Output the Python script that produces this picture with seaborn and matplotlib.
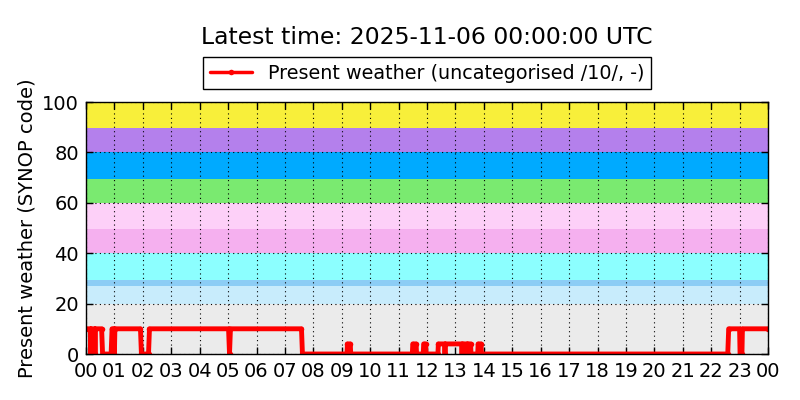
import pandas as pd
import numpy as np
import seaborn as sns
import matplotlib
matplotlib.use("Agg")
import matplotlib.pyplot as plt
import matplotlib.dates as mdates

# observation times (HH:MM on 2025-11-05) and present weather codes
times = [
    "00:00", "00:09", "00:10", "00:11", "00:18", "00:19", "00:20", "00:33",
    "00:35", "00:53", "00:55", "00:59", "01:00", "01:01", "01:55", "01:57",
    "02:12", "02:14", "05:01", "05:03", "05:05", "07:35", "07:37", "09:11",
    "09:12", "09:18", "09:19", "11:29", "11:30", "11:37", "11:38", "11:52",
    "11:53", "11:57", "11:58", "12:23", "12:24", "12:37", "12:38", "12:39",
    "13:13", "13:14", "13:15", "13:24", "13:25", "13:26", "13:32", "13:33",
    "13:47", "13:48", "13:54", "13:55", "22:35", "22:37", "23:00", "23:01",
    "23:05", "23:06", "24:00",
]
ww = [
    10, 10, 0, 10, 10, 0, 10, 10,
    0, 0, 10, 10, 0, 10, 10, 0,
    0, 10, 10, 0, 10, 10, 0, 0,
    4, 4, 0, 0, 4, 4, 0, 0,
    4, 4, 0, 0, 4, 4, 0, 4,
    4, 0, 4, 4, 0, 4, 4, 0,
    0, 4, 4, 0, 0, 10, 10, 0,
    0, 10, 10,
]

# background bands for SYNOP code groups
band_edges = [0, 20, 27, 29.5, 40, 49.5, 60, 69.5, 80, 89.5, 100]
band_colors = ["#ebebeb", "#c8ecfc", "#8ccdf5", "#8cffff", "#f5b0ef",
               "#fdd0f8", "#7aea70", "#00aaff", "#b480ec", "#f8ef3a"]

day = pd.Timestamp("2025-11-05")


def to_time(s):
    h, m = s.split(":")
    return day + pd.Timedelta(hours=int(h), minutes=int(m))


df = pd.DataFrame({"time": [to_time(t) for t in times], "ww": ww})

sns.set_style("white", rc={"text.color": "black", "axes.labelcolor": "black",
                           "xtick.color": "black", "ytick.color": "black"})
plt.rcParams["font.family"] = ["DejaVu Sans"]

fig, ax = plt.subplots(figsize=(8, 4), dpi=100)
fig.subplots_adjust(left=0.1075, right=0.96, top=0.745, bottom=0.115)

for lo, hi, c in zip(band_edges[:-1], band_edges[1:], band_colors):
    ax.axhspan(lo, hi, color=c, lw=0, zorder=0)

sns.lineplot(data=df, x="time", y="ww", ax=ax, color="red", lw=3.5,
             marker="o", markersize=4, markeredgewidth=0,
             label="Present weather (uncategorised /10/, -)", zorder=3)

ax.set_xlim(day, day + pd.Timedelta(hours=24))
ax.set_ylim(0, 100)
ax.set_yticks([0, 20, 40, 60, 80, 100])
ax.xaxis.set_major_locator(mdates.HourLocator(interval=1))
ax.xaxis.set_major_formatter(mdates.DateFormatter("%H"))
ax.set_axisbelow(False)
ax.grid(True, color="black", linestyle=(0, (1, 3)), linewidth=0.8, zorder=1)
for s in ax.spines.values():
    s.set_color("black")
    s.set_linewidth(1)
    s.set_zorder(4)
ax.tick_params(direction="in", length=5, width=1, labelsize=14,
               top=True, right=True, bottom=True, left=True, pad=5)
ax.tick_params(axis="x", pad=6)
ax.set_xlabel("")
ax.set_ylabel("Present weather (SYNOP code)", fontsize=14)
ax.set_title("Latest time: 2025-11-06 00:00:00 UTC", fontsize=16.9, pad=42)

leg = ax.legend(loc="lower center", bbox_to_anchor=(0.5, 1.05), fontsize=13.8,
                frameon=True, fancybox=False, edgecolor="black",
                framealpha=1, borderaxespad=0, numpoints=1,
                handlelength=2.2, borderpad=0.35)
leg.get_frame().set_linewidth(1)
leg.get_lines()[0].set_linewidth(2.5)

fig.savefig("out.png", dpi=100)
